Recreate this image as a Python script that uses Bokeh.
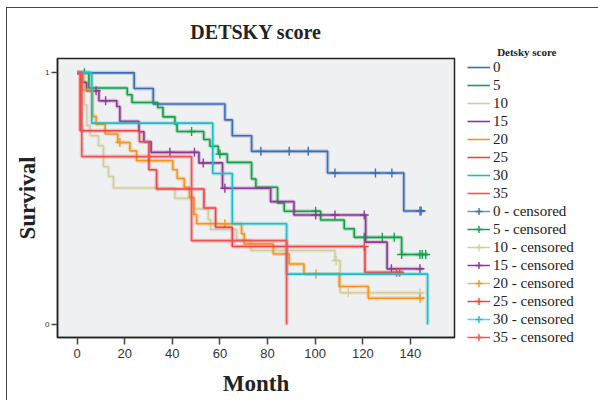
import numpy as np
from bokeh.plotting import figure
from bokeh.models import Legend, LegendItem, FixedTicker, Range1d, Title
from bokeh.embed import file_html
from bokeh.resources import INLINE

# ---------------- data ----------------
groups = ["0", "5", "10", "15", "20", "25", "30", "35"]

t_0 = [0, 24, 32, 62.1, 65.2, 73.3, 105.2, 137.2, 145.8]
s_0 = [1, 0.938, 0.876, 0.813, 0.75, 0.688, 0.602, 0.451, 0.451]
c_0 = [77.2, 89.1, 97.1, 108.3, 125.3, 132.2, 144.0, 144.5]

t_5 = [0, 5.0, 21.1, 23.1, 33.9, 36.1, 41.1, 42.0, 53.2, 55.8, 59.3, 63.1, 73.3, 75.1,
       84.2, 87.0, 102.3, 112.2, 116.4, 136.3, 147.4]
s_5 = [1, 0.94, 0.913, 0.882, 0.862, 0.825, 0.796, 0.767, 0.735, 0.708, 0.677, 0.644,
       0.578, 0.545, 0.483, 0.45, 0.415, 0.38, 0.346, 0.278, 0.278]
c_5 = [3.1, 48.1, 60.0, 100.2, 120.6, 128.2, 133.2, 136.3, 144.0, 145.0, 146.4]

t_10 = [0, 3.1, 4.1, 5.5, 9.0, 11.1, 13.2, 15.3, 41.1, 49.1, 55.1, 56.1, 67.0, 73.0,
        108.3, 110.5, 145.4]
s_10 = [1, 0.873, 0.79, 0.75, 0.71, 0.627, 0.588, 0.542, 0.501, 0.459, 0.417, 0.377,
        0.336, 0.294, 0.254, 0.126, 0.126]
c_10 = [108.8, 113.9, 144.0]

t_15 = [0, 2.2, 4.0, 9.2, 16.7, 18.0, 26.0, 28.1, 31.1, 51.2, 61.1, 81.3, 91.1, 121.2,
        130.2, 145.4]
s_15 = [1, 0.962, 0.929, 0.889, 0.866, 0.807, 0.766, 0.726, 0.684, 0.642, 0.541, 0.488,
        0.435, 0.327, 0.221, 0.221]
c_15 = [8.0, 12.0, 39.0, 49.3, 53.0, 62.1, 100.2, 108.3, 120.6, 132.0, 144.0]

t_20 = [0, 2.2, 6.5, 8.0, 11.8, 17.1, 22.2, 25.0, 40.2, 42.1, 45.0, 47.2, 49.1, 50.2,
        69.1, 70.2, 82.4, 89.1, 95.3, 110.1, 122.3, 145.8]
s_20 = [1, 0.933, 0.827, 0.796, 0.757, 0.723, 0.69, 0.651, 0.615, 0.58, 0.545, 0.505,
        0.437, 0.40, 0.36, 0.32, 0.28, 0.24, 0.20, 0.151, 0.104, 0.104]
c_20 = [18.0, 62.1, 100.3, 144.0]

t_25 = [0, 1.3, 26.2, 30.2, 33.4, 53.3, 58.2, 65.2, 120.9, 137.0]
s_25 = [1, 0.77, 0.726, 0.615, 0.538, 0.463, 0.386, 0.31, 0.207, 0.207]
c_25 = [120.6, 134.2, 135.5]

t_30 = [0, 6.2, 57.0, 65.2, 88.0, 147.2, 147.2]
s_30 = [1, 0.8, 0.6, 0.4, 0.2, 0.0, 0.0]
c_30 = []

t_35 = [0, 2.0, 48.1, 88.0, 88.0]
s_35 = [1, 0.667, 0.333, 0.0, 0.0]
c_35 = []

x_ticks = [0, 20, 40, 60, 80, 100, 120, 140]
y_ticks = [0, 1]

times = [t_0, t_5, t_10, t_15, t_20, t_25, t_30, t_35]
survs = [s_0, s_5, s_10, s_15, s_20, s_25, s_30, s_35]
cens = [c_0, c_5, c_10, c_15, c_20, c_25, c_30, c_35]

colors = ["#3F6CB7", "#14A048", "#D3CEA2", "#8C3A92", "#F7941E", "#EE4444", "#20BDC8", "#F05454"]
legend_colors = ["#6F92CC", "#14A048", "#D3CEA2", "#8C3A92", "#F9B26E", "#EE4444", "#62D2D8", "#F05454"]

# ---------------- figure ----------------
p = figure(frame_width=397, frame_height=279, output_backend="svg", toolbar_location=None,
           x_range=Range1d(-8.2, 158.5), y_range=Range1d(-0.052, 1.057),
           min_border_left=50, min_border_right=135, min_border_top=50, min_border_bottom=63,
           title=None)
p.styles = {"border-left": "1.5px solid #444", "border-top": "1.5px solid #444",
            "margin-left": "6px", "margin-top": "7px"}

p.background_fill_color = "#EFF0F2"
p.border_fill_color = "white"
p.outline_line_color = "#222222"
p.outline_line_width = 1.5
p.grid.visible = False

legend_title = Title(text="Detsky score", align="right", offset=-102, standoff=1,
                     text_font="Liberation Serif", text_font_size="11px",
                     text_font_style="bold", text_color="#222222")
main_title = Title(text="DETSKY score", align="center", standoff=2,
                   text_font="Liberation Serif", text_font_size="20px",
                   text_font_style="bold", text_color="#222222")
p.add_layout(legend_title, "above")
p.add_layout(main_title, "above")

p.xaxis.ticker = FixedTicker(ticks=x_ticks)
p.yaxis.ticker = FixedTicker(ticks=y_ticks)
for ax in (p.xaxis[0], p.yaxis[0]):
    ax.minor_tick_line_color = None
    ax.major_tick_in = 0
    ax.axis_line_color = "#222222"
    ax.axis_line_width = 1.5
    ax.major_tick_line_color = "#444444"
    ax.major_tick_line_width = 1.5
    ax.axis_label_text_font = "Liberation Serif"
    ax.axis_label_text_font_style = "bold"
    ax.axis_label_text_font_size = "23px"
    ax.axis_label_text_color = "#222222"

p.xaxis.major_tick_out = 7
p.xaxis.major_label_text_font = "Liberation Sans"
p.xaxis.major_label_text_font_size = "13px"
p.xaxis.major_label_text_color = "#333333"
p.xaxis.major_label_standoff = 4
p.xaxis.axis_label = "Month"
p.xaxis.axis_label_standoff = 10

p.yaxis.major_tick_out = 6
p.yaxis.major_label_text_font = "Liberation Sans"
p.yaxis.major_label_text_font_size = "8px"
p.yaxis.major_label_text_color = "#333333"
p.yaxis.major_label_standoff = 2
p.yaxis.axis_label = "Survival"
p.yaxis.axis_label_standoff = 2

step_rs = []
cens_rs = []
dummy_rs = []
for g, t, s, c, col, lcol in zip(groups, times, survs, cens, colors, legend_colors):
    p.step(t, s, mode="after", line_color=col, line_width=4, line_alpha=0.28)
    r = p.step(t, s, mode="after", line_color=col, line_width=1.6)
    step_rs.append(r)
    ta = np.array(t)
    sa = np.array(s)
    ca = np.array(c, dtype=float)
    if len(ca):
        idx = np.searchsorted(ta, ca, side="right") - 1
        idx = np.clip(idx, 0, len(sa) - 1)
        cy = sa[idx]
    else:
        ca = np.array([np.nan])
        cy = np.array([np.nan])
    cr = p.scatter(ca, cy, marker="cross", size=9, line_color=col, line_width=1.4)
    cens_rs.append(cr)
    d = p.line(x=[np.nan], y=[np.nan], line_color=lcol, line_width=1.5)
    dummy_rs.append(d)

items = []
for g, r in zip(groups, step_rs):
    items.append(LegendItem(label=g, renderers=[r]))
for g, cr, d in zip(groups, cens_rs, dummy_rs):
    items.append(LegendItem(label=g + " - censored", renderers=[d, cr]))

legend = Legend(items=items, location=(13, -9), orientation="vertical",
                glyph_width=23, glyph_height=18, label_height=18, spacing=0,
                label_standoff=3, padding=0, margin=0,
                label_text_font="Liberation Serif", label_text_font_size="15px",
                label_text_color="#222222",
                border_line_color=None, background_fill_alpha=0)
p.add_layout(legend, "right")

open("out.html", "w").write(file_html(p, INLINE))
